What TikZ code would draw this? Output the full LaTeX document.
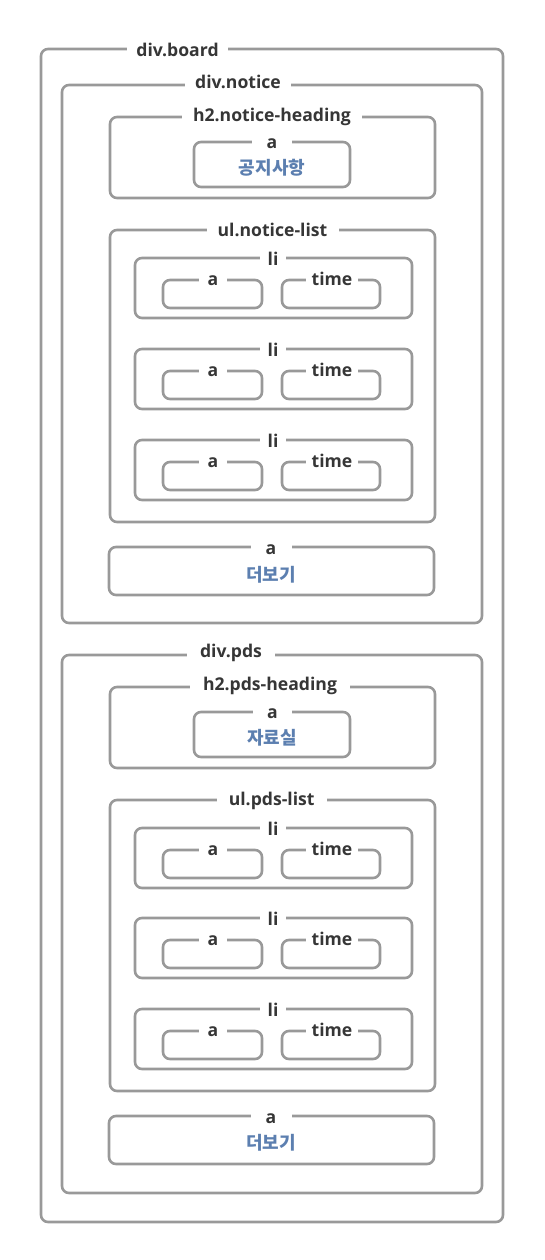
\documentclass[tikz,border=0pt]{standalone}
\usepackage{fontspec}
\newfontfamily\lblfont{Open Sans}
\newfontfamily\krfont{Noto Sans CJK KR}
\definecolor{boxgray}{HTML}{999999}
\definecolor{txtdark}{HTML}{363636}
\definecolor{krblue}{HTML}{5C7FB0}
\tikzset{
  boxr/.style={draw=boxgray, line width=2.6pt, rounded corners=7pt, inner sep=0pt},
  lbl/.style={fill=white, text=txtdark, inner xsep=0pt, inner ysep=1pt, anchor=base,
              font=\lblfont\bfseries\fontsize{17.6}{20}\selectfont},
  krtxt/.style={text=krblue, inner sep=0pt, font=\krfont\bfseries\fontsize{18}{20}\selectfont}
}
% box: name, left, top, right, bottom
\newcommand{\mybox}[5]{%
  \pgfmathsetmacro{\bw}{(#4)-(#2)}\pgfmathsetmacro{\bh}{(#5)-(#3)}%
  \node[boxr, minimum width=\bw pt, minimum height=\bh pt] (#1) at ({((#2)+(#4))/2},{((#3)+(#5))/2}) {};}
% label: name, center x, gap width, baseline y, text
\newcommand{\mylbl}[5]{\node[lbl, minimum width=#3pt] (#1) at (#2,{#4}) {#5};}
% one list item: prefix, top
\newcommand{\myli}[2]{%
  \mybox{#1}{135}{#2}{412}{#2+60}
  \mylbl{#1l}{273}{26}{#2+7.7}{li}
  \mybox{#1a}{163}{#2+22}{262}{#2+50}
  \mylbl{#1al}{213}{28}{#2+27}{a}
  \mybox{#1t}{282}{#2+22}{380}{#2+50}
  \mylbl{#1tl}{332}{52}{#2+27}{time}}
\begin{document}
\begin{tikzpicture}[x=1pt, y=-1pt]
\useasboundingbox[fill=white] (0,0) rectangle (544,1260);
% board
\mybox{board}{41}{49}{503}{1222}
\mylbl{boardl}{177.5}{101}{56.7}{div.board}
% notice
\mybox{notice}{62}{85}{482}{623}
\mylbl{noticel}{238}{106}{88.7}{div.notice}
\mybox{hn}{110}{117}{435}{198}
\mylbl{hnl}{272}{180}{121.7}{h2.notice-heading}
\mybox{hna}{194}{142}{350}{187}
\mylbl{hnal}{272}{40}{149}{a}
\node[krtxt] (hnak) at (272,168) {공지사항};
\mybox{uln}{110}{230}{435}{522}
\mylbl{ulnl}{272.5}{132}{236.7}{ul.notice-list}
\myli{na}{258}
\myli{nb}{349}
\myli{nc}{440}
\mybox{mn}{109}{547}{434}{595}
\mylbl{mnl}{271}{41}{554}{a}
\node[krtxt] (mnk) at (271,574.5) {더보기};
% pds
\mybox{pds}{62}{655}{482}{1193}
\mylbl{pdsl}{231}{88}{657.5}{div.pds}
\mybox{hp}{110}{687}{435}{768}
\mylbl{hpl}{270}{160}{690.7}{h2.pds-heading}
\mybox{hpa}{194}{712}{350}{757}
\mylbl{hpal}{272.5}{39}{718.5}{a}
\node[krtxt] (hpak) at (272,738) {자료실};
\mybox{ulp}{110}{800}{435}{1091}
\mylbl{ulpl}{271.7}{110}{805.7}{ul.pds-list}
\myli{pa}{828}
\myli{pb}{918}
\myli{pc}{1009}
\mybox{mp}{109}{1116}{434}{1164}
\mylbl{mpl}{271}{41}{1123}{a}
\node[krtxt] (mpk) at (271,1143) {더보기};
\end{tikzpicture}
\end{document}
